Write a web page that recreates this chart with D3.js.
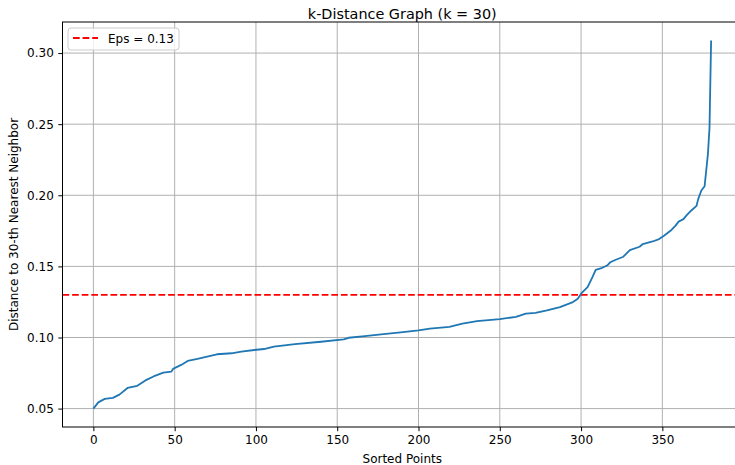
<!DOCTYPE html>
<html>
<head>
<meta charset="utf-8">
<script src="https://cdn.jsdelivr.net/npm/d3@7"></script>
<style>
  body { margin: 0; background: #fff; }
  svg { display: block; font-family: "DejaVu Sans", sans-serif; }
</style>
</head>
<body>
<div id="chart"></div>
<script>
// sampled points of the sorted k-distance curve (index, distance)
const pointIdx = [0, 3, 7, 12, 16, 21, 27, 32, 37, 43, 48, 49, 54, 58, 64, 70, 76, 85, 91, 99,
  105, 111, 124, 140, 154, 157, 167, 177, 189, 200, 207, 219, 227, 236, 250, 260, 266, 272, 279, 287,
  295, 298, 300, 304, 307, 309, 313, 316, 318, 321, 326, 330, 336, 338, 344, 348, 351, 355, 358, 360,
  363, 365, 368, 371, 372, 374, 376, 378, 379, 380];
const kDist = [0.0500, 0.0544, 0.0568, 0.0575, 0.0598, 0.0645, 0.0660, 0.0698, 0.0726, 0.0753, 0.0760, 0.0779, 0.0807, 0.0835, 0.0849, 0.0865, 0.0882, 0.0889, 0.0900, 0.0912,
  0.0919, 0.0935, 0.0954, 0.0970, 0.0987, 0.0998, 0.1010, 0.1022, 0.1036, 0.1050, 0.1063, 0.1075, 0.1098, 0.1115, 0.1129, 0.1145, 0.1168, 0.1173, 0.1191, 0.1214,
  0.1249, 0.1273, 0.1308, 0.1354, 0.1424, 0.1476, 0.1490, 0.1506, 0.1529, 0.1545, 0.1568, 0.1615, 0.1638, 0.1657, 0.1675, 0.1692, 0.1715, 0.1750, 0.1785, 0.1815,
  0.1832, 0.1860, 0.1895, 0.1925, 0.1971, 0.2034, 0.2064, 0.2286, 0.2471, 0.3089];

const eps = 0.13;
const xTicks = [0, 50, 100, 150, 200, 250, 300, 350];
const yTicks = [0.05, 0.10, 0.15, 0.20, 0.25, 0.30];

const width = 735;
const height = 465;
const margin = { top: 22, right: -7, bottom: 38, left: 62.5 };

const svg = d3.select("#chart").append("svg")
  .attr("width", width)
  .attr("height", height);

// matplotlib-like 5% padding
const n = pointIdx[pointIdx.length - 1];
const yMin = d3.min(kDist), yMax = d3.max(kDist);
const x = d3.scaleLinear()
  .domain([-0.05 * n, n * 1.05])
  .range([margin.left, width - margin.right]);
const y = d3.scaleLinear()
  .domain([yMin - 0.05 * (yMax - yMin), yMax + 0.05 * (yMax - yMin)])
  .range([height - margin.bottom, margin.top]);

const plotTop = margin.top, plotBottom = height - margin.bottom;
const plotLeft = margin.left, plotRight = width - margin.right;

// grid
svg.append("g").selectAll("line").data(xTicks).join("line")
  .attr("x1", d => x(d)).attr("x2", d => x(d))
  .attr("y1", plotTop).attr("y2", plotBottom)
  .attr("stroke", "#b0b0b0").attr("stroke-width", 1);
svg.append("g").selectAll("line").data(yTicks).join("line")
  .attr("x1", plotLeft).attr("x2", plotRight)
  .attr("y1", d => y(d)).attr("y2", d => y(d))
  .attr("stroke", "#b0b0b0").attr("stroke-width", 1);

// eps line
svg.append("line")
  .attr("x1", plotLeft).attr("x2", plotRight)
  .attr("y1", y(eps)).attr("y2", y(eps))
  .attr("stroke", "red").attr("stroke-width", 1.8)
  .attr("stroke-dasharray", "6.7,2.9");

// curve
const line = d3.line()
  .x((d, i) => x(pointIdx[i]))
  .y(d => y(d));
svg.append("path")
  .datum(kDist)
  .attr("d", line)
  .attr("fill", "none")
  .attr("stroke", "#1f77b4")
  .attr("stroke-width", 1.8)
  .attr("stroke-linejoin", "round");

// axes
const xAxis = svg.append("g")
  .attr("transform", `translate(0,${plotBottom})`)
  .call(d3.axisBottom(x).tickValues(xTicks).tickFormat(d3.format("d")).tickSizeOuter(0).tickSize(4.2).tickPadding(4.5));
const yAxis = svg.append("g")
  .attr("transform", `translate(${plotLeft},0)`)
  .call(d3.axisLeft(y).tickValues(yTicks).tickFormat(d3.format(".2f")).tickSizeOuter(0).tickSize(4.2).tickPadding(4.5));
[xAxis, yAxis].forEach(g => {
  g.select(".domain").remove();
  g.selectAll("line").attr("stroke", "#000").attr("stroke-width", 1);
  g.selectAll("text").attr("font-size", 12).attr("fill", "#000")
    .attr("font-family", "DejaVu Sans, sans-serif");
});

// spines
svg.append("rect")
  .attr("x", plotLeft).attr("y", plotTop)
  .attr("width", plotRight - plotLeft).attr("height", plotBottom - plotTop)
  .attr("fill", "none").attr("stroke", "#000").attr("stroke-width", 1);

// titles
svg.append("text")
  .attr("x", (plotLeft + plotRight) / 2).attr("y", 18.5)
  .attr("text-anchor", "middle").attr("font-size", 14.4)
  .text("k-Distance Graph (k = 30)");
svg.append("text")
  .attr("x", (plotLeft + plotRight) / 2).attr("y", 463)
  .attr("text-anchor", "middle").attr("font-size", 12)
  .text("Sorted Points");
svg.append("text")
  .attr("transform", `translate(18,${(plotTop + plotBottom) / 2}) rotate(-90)`)
  .attr("text-anchor", "middle").attr("font-size", 12)
  .text("Distance to 30-th Nearest Neighbor");

// legend
const legend = svg.append("g").attr("transform", "translate(68,28)");
legend.append("rect")
  .attr("width", 111).attr("height", 22).attr("rx", 3)
  .attr("fill", "#fff").attr("fill-opacity", 0.8)
  .attr("stroke", "#cccccc").attr("stroke-width", 1);
legend.append("line")
  .attr("x1", 5).attr("x2", 30).attr("y1", 10).attr("y2", 10)
  .attr("stroke", "red").attr("stroke-width", 1.8)
  .attr("stroke-dasharray", "6.7,2.9");
legend.append("text")
  .attr("x", 40).attr("y", 14.5).attr("font-size", 12)
  .text("Eps = 0.13");
</script>
</body>
</html>
